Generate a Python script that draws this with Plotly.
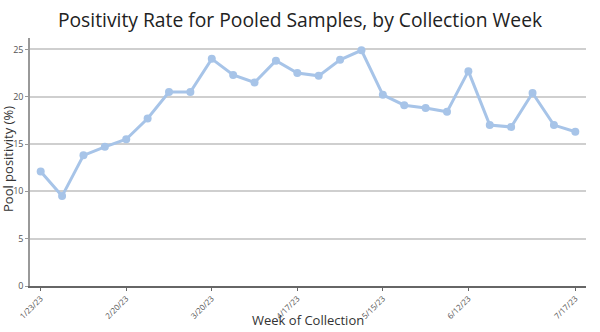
import plotly.graph_objects as go

weeks = ["1/23/23", "1/30/23", "2/6/23", "2/13/23", "2/20/23", "2/27/23", "3/6/23",
         "3/13/23", "3/20/23", "3/27/23", "4/3/23", "4/10/23", "4/17/23", "4/24/23",
         "5/1/23", "5/8/23", "5/15/23", "5/22/23", "5/29/23", "6/5/23", "6/12/23",
         "6/19/23", "6/26/23", "7/3/23", "7/10/23", "7/17/23"]
positivity = [12.1, 9.5, 13.8, 14.7, 15.5, 17.7, 20.5, 20.5, 24.0, 22.3, 21.5, 23.8,
              22.5, 22.2, 23.9, 24.9, 20.2, 19.1, 18.8, 18.4, 22.7, 17.0, 16.8, 20.4,
              17.0, 16.3]
tick_labels = ["1/23/23", "2/20/23", "3/20/23", "4/17/23", "5/15/23", "6/12/23", "7/17/23"]
y_ticks = [0, 5, 10, 15, 20, 25]

fig = go.Figure()
fig.add_trace(go.Scatter(
    x=weeks, y=positivity, mode="lines+markers",
    line=dict(color="#a7c4e8", width=3),
    marker=dict(color="#a7c4e8", size=8),
    hoverinfo="x+y",
))

fig.update_layout(
    width=600, height=332,
    margin=dict(l=30, r=14, t=38, b=46),
    paper_bgcolor="white", plot_bgcolor="white",
    font=dict(family="Open Sans", color="#444"),
    title=dict(text="Positivity Rate for Pooled Samples, by Collection Week",
               x=0.5, xanchor="center", y=0.94, yanchor="middle",
               font=dict(size=19.3, color="#222", family="Open Sans")),
    showlegend=False,
    annotations=[
        dict(text="Week of Collection", xref="paper", yref="paper",
             x=0.5, y=-0.137, xanchor="center", yanchor="middle",
             showarrow=False, font=dict(size=13, color="#333", family="Open Sans")),
        dict(text="Pool positivity (%)", xref="paper", yref="paper",
             x=-0.0396, y=0.512, xanchor="center", yanchor="middle", textangle=-90,
             showarrow=False, font=dict(size=13, color="#333", family="Open Sans")),
    ],
)
fig.update_xaxes(
    type="category", range=[-0.5, 25.5], automargin=False,
    tickmode="array", tickvals=tick_labels, ticktext=tick_labels,
    tickangle=-45, tickfont=dict(size=8, color="#555", family="Open Sans"),
    ticks="outside", ticklen=3, tickcolor="#666",
    showline=True, linecolor="#666", linewidth=1.5,
    showgrid=False,
)
fig.update_yaxes(
    range=[0, 26.2], tickvals=y_ticks, automargin=False,
    tickfont=dict(size=9, color="#555", family="Open Sans"),
    ticks="outside", ticklen=3, tickcolor="#999",
    showline=True, linecolor="#999", linewidth=1.5,
    showgrid=True, gridcolor="#cfcfcf", gridwidth=1.5,
    zeroline=False,
)

fig.write_html("out.html")
